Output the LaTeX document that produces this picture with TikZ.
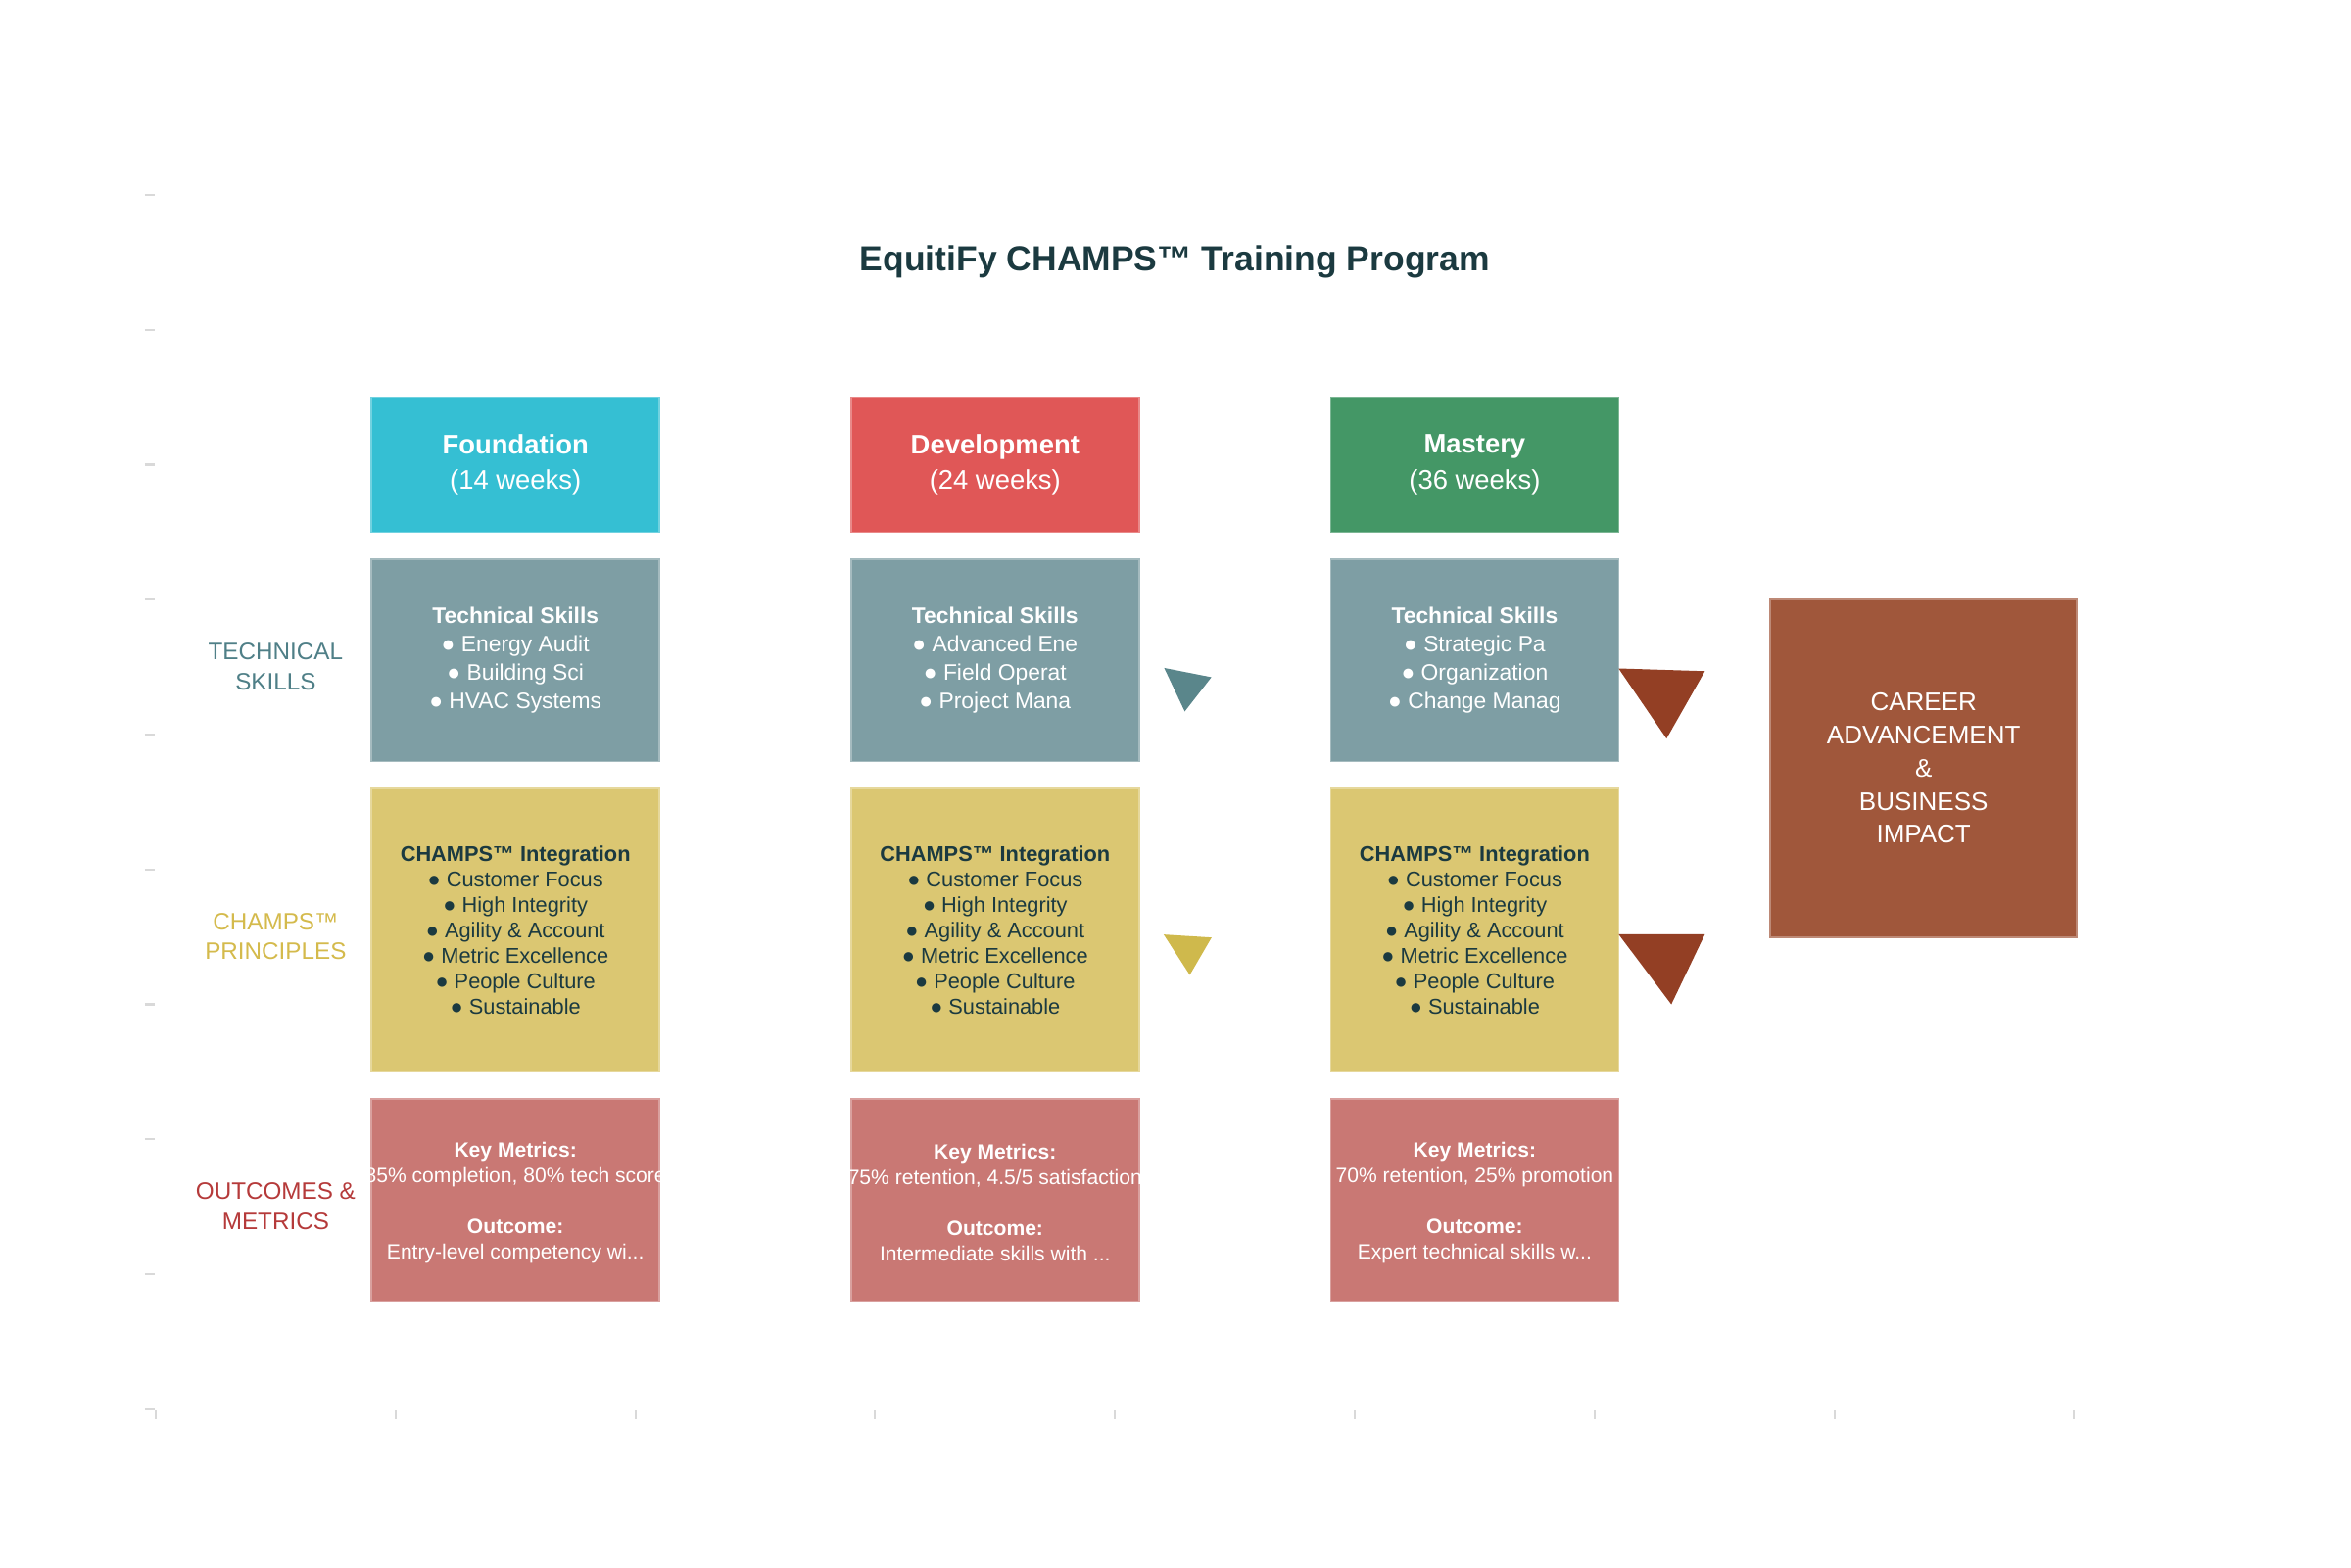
\documentclass[tikz,border=0pt]{standalone}
\usepackage{fontspec}
\setmainfont{Liberation Sans}
\definecolor{fcyan}{HTML}{35BFD3}
\definecolor{dred}{HTML}{E05757}
\definecolor{mgreen}{HTML}{449766}
\definecolor{techgray}{HTML}{7E9EA4}
\definecolor{champsyel}{HTML}{DBC772}
\definecolor{metricrose}{HTML}{C97874}
\definecolor{careerbrown}{HTML}{A0573B}
\definecolor{tealtri}{HTML}{5A868B}
\definecolor{yeltri}{HTML}{CFB94C}
\definecolor{browntri}{HTML}{933F24}
\definecolor{inkdark}{HTML}{1B3A40}
\definecolor{techlabel}{HTML}{4F7F87}
\definecolor{champslabel}{HTML}{D4BA4C}
\definecolor{outlabel}{HTML}{B53A3A}
\newcommand\headfont{\fontsize{7.8}{10.4}\selectfont}
\newcommand\techfont{\fontsize{6.5}{8.25}\selectfont}
\newcommand\champsfont{\fontsize{6.2}{7.4}\selectfont}
\newcommand\metfont{\fontsize{6}{7.4}\selectfont}
\newcommand\labfont{\fontsize{6.9}{8.7}\selectfont}
\newcommand\carfont{\fontsize{7.4}{9.6}\selectfont}
\tikzset{
  phasebox/.style={fill=#1, draw=#1!70!white, line width=0.5pt,
    minimum width=2.94cm, inner sep=0pt, align=center},
  rowlabel/.style={font=\labfont, align=center},
  mettext/.style={text=white, font=\metfont, align=center, yshift=-0.8pt},
  axtick/.style={draw=gray!30, line width=0.6pt}
}
\begin{document}
\begin{tikzpicture}[x=2.448cm, y=-1.3775cm]
\useasboundingbox (-0.6495,-1.4446) rectangle (9.1544,10.1706);
% assi
\foreach \i in {0,...,8} \draw[axtick] (\i,9.01) -- (\i,9.075);
\foreach \j in {0,...,9} \draw[axtick] (-0.045,\j) -- (-0.004,\j);
% titolo
\node[font=\fontsize{10.1}{12}\selectfont\bfseries, text=inkdark] (title) at (4.25,0.5) {EquitiFy CHAMPS™ Training Program};
% righe
\node[rowlabel, text=techlabel] (lab-tech) at (0.5,3.495) {TECHNICAL\\SKILLS};
\node[rowlabel, text=champslabel] (lab-champs) at (0.5,5.495) {CHAMPS™\\PRINCIPLES};
\node[rowlabel, text=outlabel] (lab-out) at (0.5,7.495) {OUTCOMES \&\\METRICS};
% fasi
\node[phasebox=fcyan, minimum height=1.38cm, text=white, font=\headfont] (found) at (1.5,2) {\textbf{Foundation}\\(14 weeks)};
\node[phasebox=dred, minimum height=1.38cm, text=white, font=\headfont] (devel) at (3.5,2) {\textbf{Development}\\(24 weeks)};
\node[phasebox=mgreen, minimum height=1.38cm, text=white, font=\headfont] (mast) at (5.5,2) {\textbf{Mastery}\\(36 weeks)};
% competenze
\node[phasebox=techgray, minimum height=2.066cm, text=white, font=\techfont] (found-tech) at (1.5,3.45) {\textbf{Technical Skills}\\● Energy Audit\\● Building Sci\\● HVAC Systems};
\node[phasebox=techgray, minimum height=2.066cm, text=white, font=\techfont] (devel-tech) at (3.5,3.45) {\textbf{Technical Skills}\\● Advanced Ene\\● Field Operat\\● Project Mana};
\node[phasebox=techgray, minimum height=2.066cm, text=white, font=\techfont] (mast-tech) at (5.5,3.45) {\textbf{Technical Skills}\\● Strategic Pa\\● Organization\\● Change Manag};
% principi
\foreach \c/\n in {1.5/found, 3.5/devel, 5.5/mast}
  \node[phasebox=champsyel, minimum height=2.893cm, text=inkdark, font=\champsfont] (\n-champs) at (\c,5.45) {\textbf{CHAMPS™ Integration}\\● Customer Focus\\● High Integrity\\● Agility \& Account\\● Metric Excellence\\● People Culture\\● Sustainable};
% metriche
\node[phasebox=metricrose, minimum height=2.066cm] (found-met) at (1.5,7.45) {};
\node[phasebox=metricrose, minimum height=2.066cm] (devel-met) at (3.5,7.45) {};
\node[phasebox=metricrose, minimum height=2.066cm] (mast-met) at (5.5,7.45) {};
\begin{scope}
\clip (found-met.south west) rectangle (found-met.north east);
\node[mettext] (found-mtext) at (found-met) {\textbf{Key Metrics:}\\85\% completion, 80\% tech score\\[7.4pt]\textbf{Outcome:}\\Entry-level competency wi...};
\end{scope}
\begin{scope}
\clip (devel-met.south west) rectangle (devel-met.north east);
\node[mettext] (devel-mtext) at (devel-met) {\textbf{Key Metrics:}\\75\% retention, 4.5/5 satisfaction\\[7.4pt]\textbf{Outcome:}\\Intermediate skills with ...};
\end{scope}
\node[mettext] (mast-mtext) at (mast-met) {\textbf{Key Metrics:}\\70\% retention, 25\% promotion\\[7.4pt]\textbf{Outcome:}\\Expert technical skills w...};
% risultato
\node[phasebox=careerbrown, minimum width=3.13cm, minimum height=3.444cm, text=white, font=\carfont] (career) at (7.372,4.25) {CAREER\\ADVANCEMENT\\\&\\BUSINESS\\IMPACT};
% frecce
\fill[tealtri] (4.205,3.506) -- (4.402,3.575) -- (4.291,3.829) -- cycle;
\fill[yeltri] (4.203,5.482) -- (4.403,5.504) -- (4.312,5.782) -- cycle;
\fill[browntri] (6.10,3.51) -- (6.46,3.53) -- (6.30,4.03) -- cycle;
\fill[browntri] (6.10,5.48) -- (6.46,5.48) -- (6.32,6.00) -- cycle;
\end{tikzpicture}
\end{document}
